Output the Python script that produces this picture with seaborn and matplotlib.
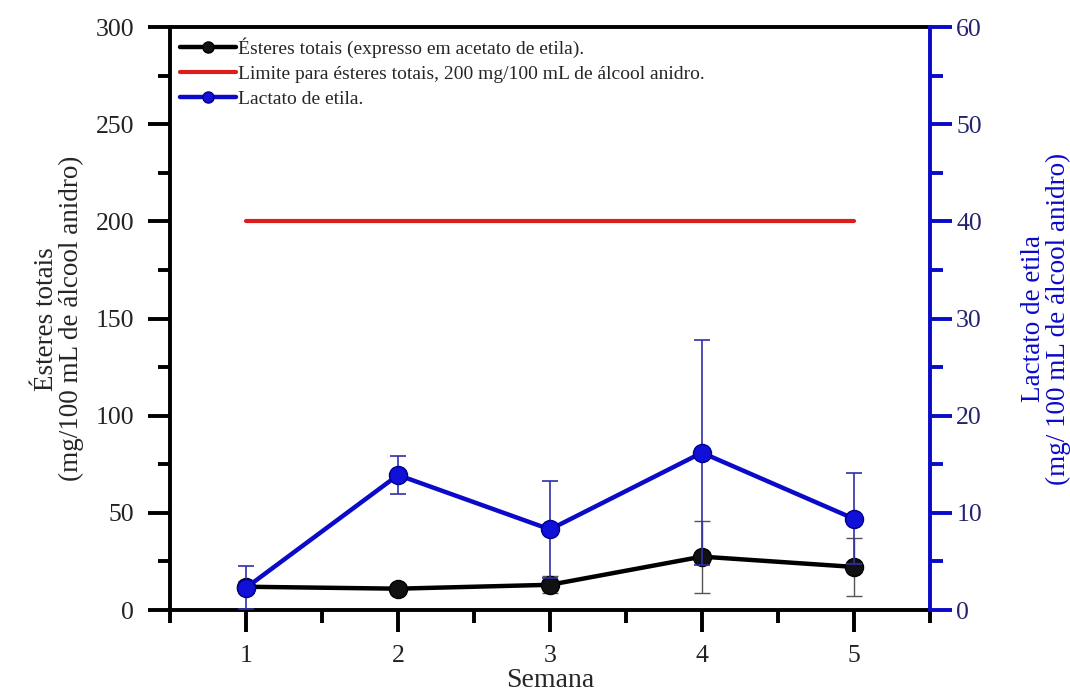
import matplotlib
matplotlib.use("Agg")
import matplotlib.pyplot as plt
import seaborn as sns
import pandas as pd
from matplotlib.ticker import MultipleLocator
from matplotlib.lines import Line2D

# Weekly measurements
semana = [1, 2, 3, 4, 5]
esteres = [12.0, 11.0, 13.0, 27.5, 22.2]          # mg/100 mL de álcool anidro
esteres_err = [3.0, 2.0, 4.3, 18.5, 15.0]
lactato = [2.3, 13.9, 8.3, 16.2, 9.4]             # mg/100 mL de álcool anidro
lactato_err = [2.2, 1.95, 5.0, 11.6, 4.7]
limite = 200.0

BLUE = "#0a0ac8"
RED = "#dd1c1c"
BLACK = "#000000"

sns.set_theme(style="ticks")
plt.rcParams["font.family"] = ["Liberation Serif", "DejaVu Serif"]

df = pd.DataFrame({"semana": semana, "esteres": esteres, "lactato": lactato})
df_lim = pd.DataFrame({"semana": [semana[0], semana[-1]], "limite": [limite, limite]})

fig = plt.figure(figsize=(10.7, 6.98), dpi=100)
ax = fig.add_axes([0.159, 0.126, 0.710, 0.835])
ax2 = ax.twinx()

# Left axis: total esters and the legal limit
sns.lineplot(data=df_lim, x="semana", y="limite", ax=ax, color=RED, lw=3, zorder=2)
ax.errorbar(semana, esteres, yerr=esteres_err, fmt="none", ecolor="#555555",
            elinewidth=1.0, capsize=6, capthick=1.0, zorder=2)
sns.lineplot(data=df, x="semana", y="esteres", ax=ax, color=BLACK, lw=3.2,
             marker="o", markersize=13, markerfacecolor="#111111",
             markeredgecolor="#000000", markeredgewidth=1.0, zorder=3)

# Right axis: ethyl lactate
ax2.errorbar(semana, lactato, yerr=lactato_err, fmt="none", ecolor="#3030a8",
             elinewidth=1.2, capsize=6, capthick=1.2, zorder=2)
sns.lineplot(data=df, x="semana", y="lactato", ax=ax2, color=BLUE, lw=3.2,
             marker="o", markersize=13, markerfacecolor="#1010d8",
             markeredgecolor="#00008a", markeredgewidth=1.0, zorder=3)

ax.set_xlim(0.5, 5.5)
ax.set_ylim(0, 300)
ax2.set_ylim(0, 60)

ax.xaxis.set_major_locator(MultipleLocator(1))
ax.xaxis.set_minor_locator(MultipleLocator(0.5))
ax.yaxis.set_major_locator(MultipleLocator(50))
ax.yaxis.set_minor_locator(MultipleLocator(25))
ax2.yaxis.set_major_locator(MultipleLocator(10))
ax2.yaxis.set_minor_locator(MultipleLocator(5))

# Spines
for s in ["left", "bottom", "top"]:
    ax.spines[s].set_linewidth(2.8)
    ax.spines[s].set_color(BLACK)
ax.spines["right"].set_visible(False)
for s in ["left", "bottom", "top"]:
    ax2.spines[s].set_visible(False)
ax2.spines["right"].set_linewidth(2.8)
ax2.spines["right"].set_color(BLUE)

ax.tick_params(axis="both", which="major", direction="out", length=16, width=2.8,
               color=BLACK, labelsize=18.5, labelcolor="#222222")
ax.tick_params(axis="both", which="minor", direction="out", length=9, width=2.8,
               color=BLACK)
ax.tick_params(axis="y", which="major", pad=10)
ax.tick_params(axis="x", which="major", pad=9)
ax2.tick_params(axis="y", which="major", direction="out", length=16, width=2.8,
                color=BLUE, labelsize=18.5, labelcolor="#24246e", pad=3)
ax2.tick_params(axis="y", which="minor", direction="out", length=9, width=2.8,
                color=BLUE)

ax.set_xlabel("Semana", fontsize=20, labelpad=1)
ax.set_ylabel("Ésteres totais\n(mg/100 mL de álcool anidro)", fontsize=19.5,
              labelpad=8, linespacing=1.0)
ax2.set_ylabel("Lactato de etila\n(mg/ 100 mL de álcool anidro)", fontsize=19.5,
               color=BLUE, labelpad=28, linespacing=1.0)

handles = [
    Line2D([], [], color=BLACK, lw=3.2, marker="o", markersize=8,
           markerfacecolor="#111111", markeredgecolor=BLACK),
    Line2D([], [], color=RED, lw=3),
    Line2D([], [], color=BLUE, lw=3.2, marker="o", markersize=8,
           markerfacecolor="#1010d8", markeredgecolor="#00008a"),
]
labels = [
    "Ésteres totais (expresso em acetato de etila).",
    "Limite para ésteres totais, 200 mg/100 mL de álcool anidro.",
    "Lactato de etila.",
]
leg = ax2.legend(handles, labels, loc="upper left", bbox_to_anchor=(0.0, 1.0),
                 frameon=False, fontsize=14, handlelength=2.9, handletextpad=0.1,
                 labelspacing=0.4, borderaxespad=0.1)

fig.savefig("out.png", dpi=100)
